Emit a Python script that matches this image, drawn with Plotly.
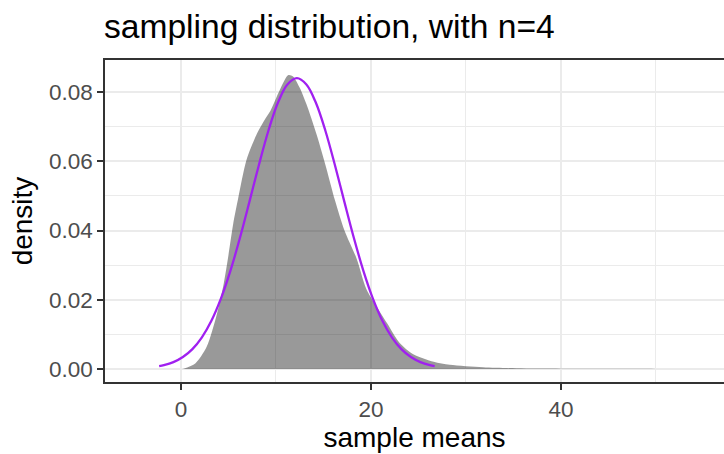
import plotly.graph_objects as go

# Sample-mean density (gray area)
dens_x = [0.2, 1.5, 2.7, 3.8, 4.5, 5.0, 5.5, 6.0, 6.9, 8.0, 8.7, 9.4, 10.4, 11.3, 11.8,
          12.5, 13.2, 14.3, 15.3, 16.2, 17.2, 18.5, 19.5, 20.6, 21.7, 23.0, 24.5, 26.6,
          28.3, 31.8, 35.3, 40.0, 45.0, 50.0, 54.0]
dens_y = [0.0, 0.0016, 0.0064, 0.0161, 0.0247, 0.0330, 0.0420, 0.0490, 0.0604, 0.0680,
          0.0715, 0.0745, 0.0806, 0.0849, 0.0845, 0.0812, 0.0765, 0.0675, 0.0580, 0.0488,
          0.0401, 0.0318, 0.0232, 0.0180, 0.0132, 0.0076, 0.0042, 0.0021, 0.0012, 0.0005,
          0.0002, 0.0001, 0.00005, 0.00002, 0.0]

# Normal curve (purple)
norm_x = [-2.3, -1.8, -0.8, 0.2, 1.2, 2.2, 3.2, 4.2, 5.2, 6.2, 7.2, 8.2, 9.2, 10.2, 11.2,
          12.2, 13.2, 14.2, 15.2, 16.2, 17.2, 18.2, 19.2, 20.2, 21.2, 22.2, 23.2, 24.2,
          25.2, 26.2, 26.7]
norm_y = [0.000796, 0.001091, 0.001985, 0.003455, 0.00575, 0.00916, 0.01395, 0.02034,
          0.02836, 0.03783, 0.04827, 0.05893, 0.06881, 0.07688, 0.08216, 0.0840,
          0.08216, 0.07688, 0.06881, 0.05893, 0.04827, 0.03783, 0.02836, 0.02034,
          0.01395, 0.00916, 0.00575, 0.003455, 0.001985, 0.001091, 0.000796]

x_ticks = [0, 20, 40]
y_ticks = [0.00, 0.02, 0.04, 0.06, 0.08]

FONT = "Liberation Sans, Arial, sans-serif"

fig = go.Figure()
fig.add_trace(go.Scatter(
    x=dens_x, y=dens_y, mode="lines", fill="tozeroy",
    fillcolor="rgba(0,0,0,0.4)", line=dict(width=0, shape="spline", smoothing=0.8),
    hoverinfo="skip", showlegend=False))
fig.add_trace(go.Scatter(
    x=norm_x, y=norm_y, mode="lines",
    line=dict(color="#A020F0", width=2.3, shape="spline"),
    showlegend=False))

fig.update_layout(
    width=724, height=454,
    margin=dict(l=105, r=0, t=60, b=72),
    paper_bgcolor="white", plot_bgcolor="white",
    font=dict(family=FONT, color="black"),
    title=dict(text="sampling distribution, with n=4", x=104/724, xanchor="left",
               xref="container", yref="container", y=1 - 14/454, yanchor="top",
               font=dict(size=33.6, color="black", family=FONT)),
    xaxis=dict(
        range=[-8.0, 57.16], tickvals=x_ticks, ticktext=[str(v) for v in x_ticks],
        showgrid=True, gridcolor="#EBEBEB", gridwidth=1.6,
        minor=dict(dtick=10, tick0=0, showgrid=True, gridcolor="#EBEBEB", gridwidth=0.8),
        zeroline=False, showline=True, linecolor="#333333", linewidth=1.5, mirror=True,
        ticks="outside", ticklen=6, tickwidth=1.5, tickcolor="#333333",
        tickfont=dict(size=22.5, color="#4D4D4D", family=FONT),
        title=dict(text="sample means", font=dict(size=28, color="black", family=FONT),
                   standoff=6),
    ),
    yaxis=dict(
        range=[-0.003755, 0.08924], tickvals=y_ticks,
        ticktext=["%.2f" % v for v in y_ticks],
        showgrid=True, gridcolor="#EBEBEB", gridwidth=1.6,
        minor=dict(dtick=0.01, tick0=0, showgrid=True, gridcolor="#EBEBEB", gridwidth=0.8),
        zeroline=False, showline=True, linecolor="#333333", linewidth=1.5, mirror=False,
        ticks="outside", ticklen=6, tickwidth=1.5, tickcolor="#333333",
        tickfont=dict(size=22.5, color="#4D4D4D", family=FONT),
        title=dict(text="density", font=dict(size=28, color="black", family=FONT),
                   standoff=8),
    ),
)

fig.write_html("out.html", config={"displayModeBar": False},
               post_script="document.body.style.margin='0';document.body.style.overflow='hidden';")
